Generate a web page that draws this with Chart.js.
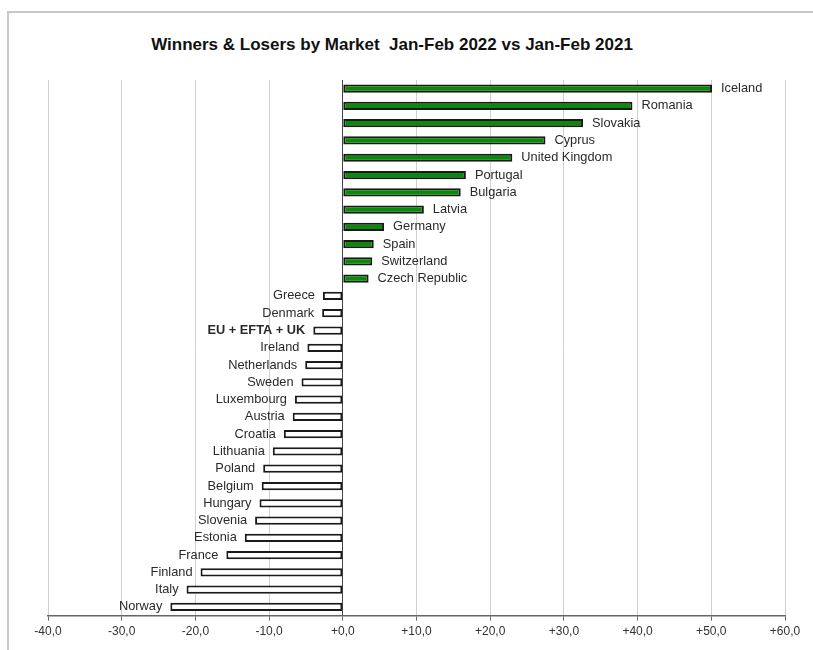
<!DOCTYPE html>
<html>
<head>
<meta charset="utf-8">
<script src="https://cdn.jsdelivr.net/npm/chart.js@4.4.1/dist/chart.umd.min.js"></script>
<style>
  html, body { margin: 0; padding: 0; background: #fff; }
  #wrap { position: relative; width: 813px; height: 650px; overflow: hidden; }
  #frame { position: absolute; left: 7px; top: 11px; width: 900px; height: 800px;
           border-top: 2px solid #c8c8c8; border-left: 2px solid #c8c8c8; }
  #title { position: absolute; left: 0; top: 35px; width: 784px; text-align: center; white-space: pre;
           font: bold 17px "Liberation Sans", Arial, sans-serif; color: #111; }
  canvas { position: absolute; left: 0; top: 0; }
</style>
</head>
<body>
<div id="wrap">
  <div id="frame"></div>
  <div id="title">Winners &amp; Losers by Market  Jan-Feb 2022 vs Jan-Feb 2021</div>
  <canvas id="c" width="813" height="650"></canvas>
</div>
<script>
const markets = ["Iceland","Romania","Slovakia","Cyprus","United Kingdom","Portugal","Bulgaria","Latvia","Germany","Spain","Switzerland","Czech Republic",
  "Greece","Denmark","EU + EFTA + UK","Ireland","Netherlands","Sweden","Luxembourg","Austria","Croatia","Lithuania","Poland","Belgium","Hungary","Slovenia","Estonia","France","Finland","Italy","Norway"];
const changePct = [50.1,39.3,32.6,27.5,23.0,16.7,16.0,11.0,5.6,4.2,4.0,3.5,
  -2.7,-2.8,-4.0,-4.8,-5.1,-5.6,-6.5,-6.8,-8.0,-9.5,-10.8,-11.0,-11.3,-11.9,-13.3,-15.8,-19.3,-21.2,-23.4];
const xTicks = [-40,-30,-20,-10,0,10,20,30,40,50,60];
const totalLabel = "EU + EFTA + UK";

const fontFam = '"Liberation Sans", Arial, sans-serif';

const labelPlugin = {
  id: 'barLabels',
  afterDatasetsDraw(chart) {
    const ctx = chart.ctx;
    const meta = chart.getDatasetMeta(0);
    ctx.save();
    ctx.fillStyle = '#2a2a2a';
    ctx.textBaseline = 'middle';
    meta.data.forEach((bar, i) => {
      const v = changePct[i];
      const name = markets[i];
      ctx.font = (name === totalLabel ? 'bold ' : '') + '12.8px ' + fontFam;
      if (v >= 0) {
        ctx.textAlign = 'left';
        ctx.fillText(name, Math.max(bar.x, bar.base) + 9, bar.y);
      } else {
        ctx.textAlign = 'right';
        ctx.fillText(name, Math.min(bar.x, bar.base) - 8, bar.y);
      }
    });
    ctx.restore();
  }
};

new Chart(document.getElementById('c'), {
  type: 'bar',
  data: {
    labels: markets,
    datasets: [{
      data: changePct,
      backgroundColor: changePct.map(v => v >= 0 ? '#0a8a0a' : '#ffffff'),
      borderColor: '#1a1a1a',
      borderWidth: 2,
      borderSkipped: false,
      barPercentage: 0.9,
      categoryPercentage: 0.53
    }]
  },
  options: {
    indexAxis: 'y',
    responsive: false,
    animation: false,
    devicePixelRatio: 1,
    layout: { padding: { left: 48, right: 28, top: 80, bottom: 7 } },
    plugins: { legend: { display: false }, title: { display: false }, tooltip: { enabled: false } },
    scales: {
      y: { display: false },
      x: {
        min: -40, max: 60,
        afterBuildTicks(axis) { axis.ticks = xTicks.map(v => ({ value: v })); },
        grid: {
          color: ctx => ctx.tick && ctx.tick.value === 0 ? '#444' : '#d0d0d0',
          lineWidth: 1,
          tickLength: 5,
          tickColor: '#666'
        },
        border: { display: true, color: '#666', width: 1.5 },
        ticks: {
          color: '#333',
          font: { family: fontFam, size: 12 },
          padding: 4,
          maxRotation: 0,
          callback: v => (v >= 0 ? '+' : '') + v.toFixed(1).replace('.', ',')
        }
      }
    }
  },
  plugins: [labelPlugin]
});
</script>
</body>
</html>
